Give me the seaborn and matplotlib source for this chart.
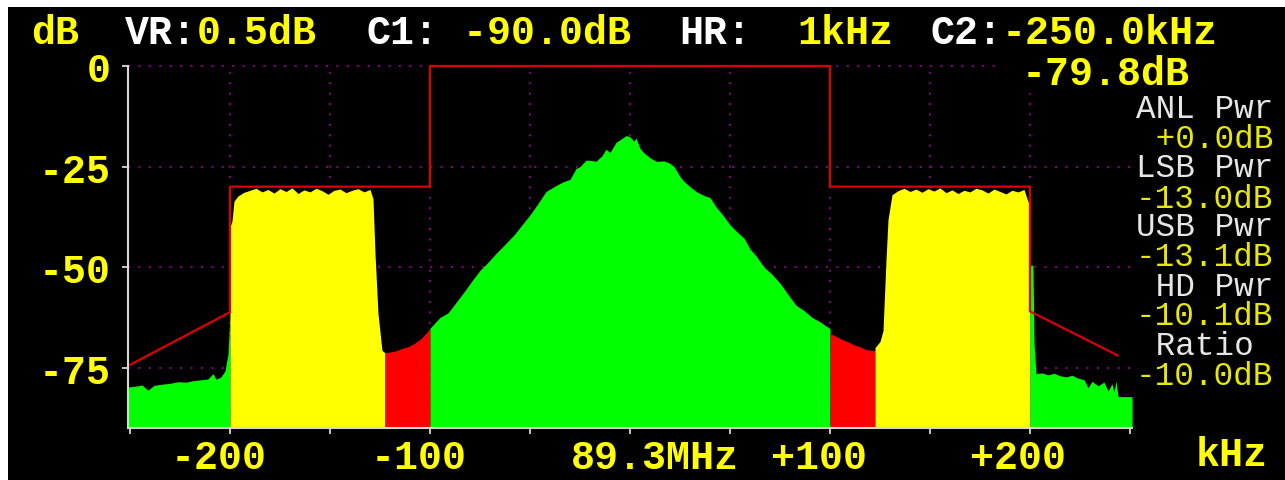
import matplotlib.pyplot as plt
import matplotlib.transforms as mtransforms
from matplotlib.patches import Rectangle
import numpy as np
import seaborn as sns

# spectrum trace (kHz offset from 89.3 MHz, dB); boundary x values repeat
freq_khz = [
    -251, -247, -244, -241, -238, -234, -230, -226, -222, -218, -214, -211,
    -208.5, -207, -204.5, -202.5, -201, -200,
    -200, -199, -198, -196, -193, -190, -187, -184, -181, -178, -175, -172,
    -169, -166, -163, -160, -157, -154, -151, -148, -145, -142, -139, -136,
    -133, -130, -128.5, -127.5, -126, -124, -122.5,
    -122.5, -120, -117, -114, -111, -108, -105, -102, -100,
    -100, -95, -91, -87, -83, -79, -75, -71, -67, -63, -58, -54, -50, -46,
    -42, -38, -35, -33, -30, -27, -25, -22, -19, -17, -14, -12, -10, -7, -4,
    -2, 0, 2, 3, 5, 7, 10, 13, 17, 20, 22, 25, 27, 30, 33, 37, 40, 43, 46,
    50, 54, 57, 60, 63, 67, 71, 75, 79, 83, 87, 91, 95, 100,
    100, 103, 106, 109, 112, 115, 118, 121, 122.5,
    122.5, 125, 126.5, 128, 129, 131, 134, 137, 140, 143, 146, 149, 152, 155,
    158, 161, 164, 167, 170, 173, 176, 179, 182, 185, 188, 191, 194, 197,
    199, 200,
    200, 201.5, 202, 203, 206, 209, 212, 215, 218, 221, 224, 227, 229, 231,
    234, 237, 239, 241, 242, 243, 244, 251,
]
level_db = [
    -79.8, -79.6, -79.3, -80.6, -79.4, -79.1, -78.9, -78.5, -78.6, -78.2, -78.0, -77.8,
    -76.5, -77.9, -77.3, -75.8, -71.6, -62.0,
    -40.0, -38.5, -33.6, -32.3, -31.4, -30.9, -30.4, -31.3, -30.7, -31.6, -30.5, -31.2,
    -30.3, -31.7, -30.8, -31.3, -30.4, -31.0, -31.9, -30.9, -30.6, -31.5, -30.9, -30.5,
    -31.3, -30.7, -33.0, -46.6, -61.6, -70.7, -71.3,
    -71.3, -71.1, -70.8, -70.2, -69.8, -69.0, -68.0, -66.5, -65.2,
    -65.2, -62.5, -61.4, -58.8, -56.2, -53.4, -50.8, -48.8, -46.6, -44.6, -42.0, -39.5, -37.0, -34.2,
    -31.2, -30.0, -29.2, -28.7, -28.2, -25.5, -25.0, -23.4, -23.5, -23.7, -22.3, -20.7, -21.5, -19.0, -18.0,
    -17.3, -17.6, -18.7, -17.9, -20.5, -21.6, -22.8, -23.7, -23.6, -24.2, -25.0, -27.5, -28.7, -30.0, -31.2, -32.2, -32.7, -35.0, -36.8,
    -39.5, -41.5, -42.8, -45.5, -47.2, -50.0, -51.8, -54.0, -56.8, -59.5, -60.8, -62.5, -63.6, -65.3,
    -66.5, -67.2, -68.0, -68.6, -69.3, -69.8, -70.5, -70.7, -70.8,
    -70.0, -68.5, -65.8, -48.2, -38.2, -32.0, -31.0, -30.4, -31.2, -30.6, -31.4, -30.5, -31.1, -30.3,
    -31.5, -30.8, -31.7, -30.9, -31.3, -30.4, -30.8, -31.6, -30.6, -31.2, -31.8, -30.9, -31.3, -30.7,
    -33.7, -34.0,
    -49.5, -49.5, -68.7, -76.5, -76.3, -76.8, -76.4, -77.0, -77.3, -76.9, -77.6, -78.0, -80.0, -78.4,
    -79.5, -78.6, -80.8, -79.0, -81.0, -78.3, -82.2, -82.2,
]

# band regions: (start kHz, end kHz, colour)
region_start = [-251, -200, -122.5, -100, 100, 122.5, 200]
region_end = [-200, -122.5, -100, 100, 122.5, 200, 251]
region_color = ['#00ff00', '#ffff00', '#ff0000', '#00ff00', '#ff0000', '#ffff00', '#00ff00']

# mask line
mask_khz = [-250, -200, -200, -100, -100, 100, 100, 200, 200, 244]
mask_db = [-74.3, -61.2, -30, -30, 0, 0, -30, -30, -61.0, -72.0]

x_ticks = [-250, -200, -150, -100, -50, 0, 50, 100, 150, 200, 250]
x_labels = ['', '-200', '', '-100', '', '89.3MHz', '', '+100', '', '+200', '']
x_label_shift = [0, -11, 0, -11, 0, 25, 0, -11, 0, -12, 0]
y_ticks = [0, -25, -50, -75]
y_labels = ['0', '-25', '-50', '-75']
x_grid = [-200, -150, -100, -50, 0, 50, 100, 150, 200]

header_text = ['dB', 'VR:', '0.5dB', 'C1:', ' -90.0dB', 'HR:', '1kHz', 'C2:', '-250.0kHz']
header_x = [31, 125, 197, 367, 439, 679, 797, 930, 1002]
header_color = ['y', 'w', 'y', 'w', 'y', 'w', 'y', 'w', 'y']

side_text = ['ANL Pwr', ' +0.0dB', 'LSB Pwr', '-13.0dB', 'USB Pwr', '-13.1dB',
             ' HD Pwr', '-10.1dB', ' Ratio', '-10.0dB']
side_y = [110, 140, 169, 199, 228, 258, 288, 317, 347, 377]
side_color = ['w', 'y', 'w', 'y', 'w', 'y', 'w', 'y', 'w', 'y']

W, H = 1285, 481
YEL = '#ffff00'
WHT = '#ffffff'
GRID = '#800080'
AXC = '#d8d8d8'

sns.set_style('dark', {'axes.facecolor': 'black', 'figure.facecolor': 'white'})
plt.rcParams['font.family'] = ['Liberation Mono', 'DejaVu Sans Mono']

fig = plt.figure(figsize=(W / 100, H / 100), dpi=100)
fig.patches.append(Rectangle((8 / W, 0), 1, (H - 8) / H, transform=fig.transFigure,
                             facecolor='black', edgecolor='none', zorder=-10))
ax = fig.add_axes([128 / W, 52 / H, (1132 - 128) / W, (429 - 67) / H])
ax.set_facecolor('black')

f = np.array(freq_khz)
lv = np.array(level_db)
for a, b, c in zip(region_start, region_end, region_color):
    sel = (f >= a) & (f <= b)
    ax.fill_between(f, lv, -95, where=sel, color=c, lw=0, zorder=2)

for y in y_ticks:
    ax.axhline(y, color=GRID, ls=(0, (1, 4)), lw=1.5, clip_on=False, zorder=0.5)
for x in x_grid:
    ax.axvline(x, color=GRID, ls=(0, (1, 4)), lw=1.5, zorder=0.5)

sns.lineplot(x=mask_khz, y=mask_db, sort=False, estimator=None, color='#dd0000',
             lw=1.6, ax=ax, zorder=3, clip_on=False)

ax.set_xlim(-251, 251)
ax.set_ylim(-90, 0)
for s in ['top', 'right']:
    ax.spines[s].set_visible(False)
for s in ['left', 'bottom']:
    ax.spines[s].set_visible(True)
    ax.spines[s].set_color(AXC)
    ax.spines[s].set_linewidth(1.5)
    ax.spines[s].set_zorder(4)

ax.set_xticks(x_ticks, x_labels)
ax.set_yticks(y_ticks, y_labels)
ax.tick_params(axis='both', direction='out', length=4.5, width=1.3, color=AXC,
               labelcolor=YEL, labelsize=28.8, bottom=True, left=True)
ax.tick_params(axis='y', pad=8)
ax.tick_params(axis='x', pad=3)
for lab in ax.get_xticklabels() + ax.get_yticklabels():
    lab.set_fontweight('bold')
for lab, dx in zip(ax.get_xticklabels(), x_label_shift):
    lab.set_transform(lab.get_transform() + mtransforms.ScaledTranslation(dx / 100, 0, fig.dpi_scale_trans))
ax.set_xlabel('')
ax.set_ylabel('')
ax.grid(False)

def px(x, y):
    return x / W, 1 - y / H

for t, x, c in zip(header_text, header_x, header_color):
    fig.text(*px(x, 33), t, color=YEL if c == 'y' else WHT, fontsize=28.8,
             fontweight='bold', ha='left', va='center')

fig.text(*px(1022, 74), '-79.8dB', color=YEL, fontsize=28.8, fontweight='bold',
         ha='left', va='center', zorder=5,
         bbox=dict(facecolor='black', edgecolor='none', pad=0.5))
# marker readout box hides the end of the 0 dB grid line
ax.add_patch(Rectangle(((1000 - 128) / 1004, 0.96), 0.2, 0.08, transform=ax.transAxes,
                       facecolor='black', edgecolor='none', clip_on=False, zorder=1))

for t, y, c in zip(side_text, side_y, side_color):
    fig.text(*px(1136, y), t, color='#e8e800' if c == 'y' else '#e6e6e6',
             fontsize=23.5, ha='left', va='center', zorder=6)

fig.text(*px(1196, 455), 'kHz', color=YEL, fontsize=28.8, fontweight='bold',
         ha='left', va='center')

fig.savefig('out.png', dpi=100, facecolor=fig.get_facecolor())
